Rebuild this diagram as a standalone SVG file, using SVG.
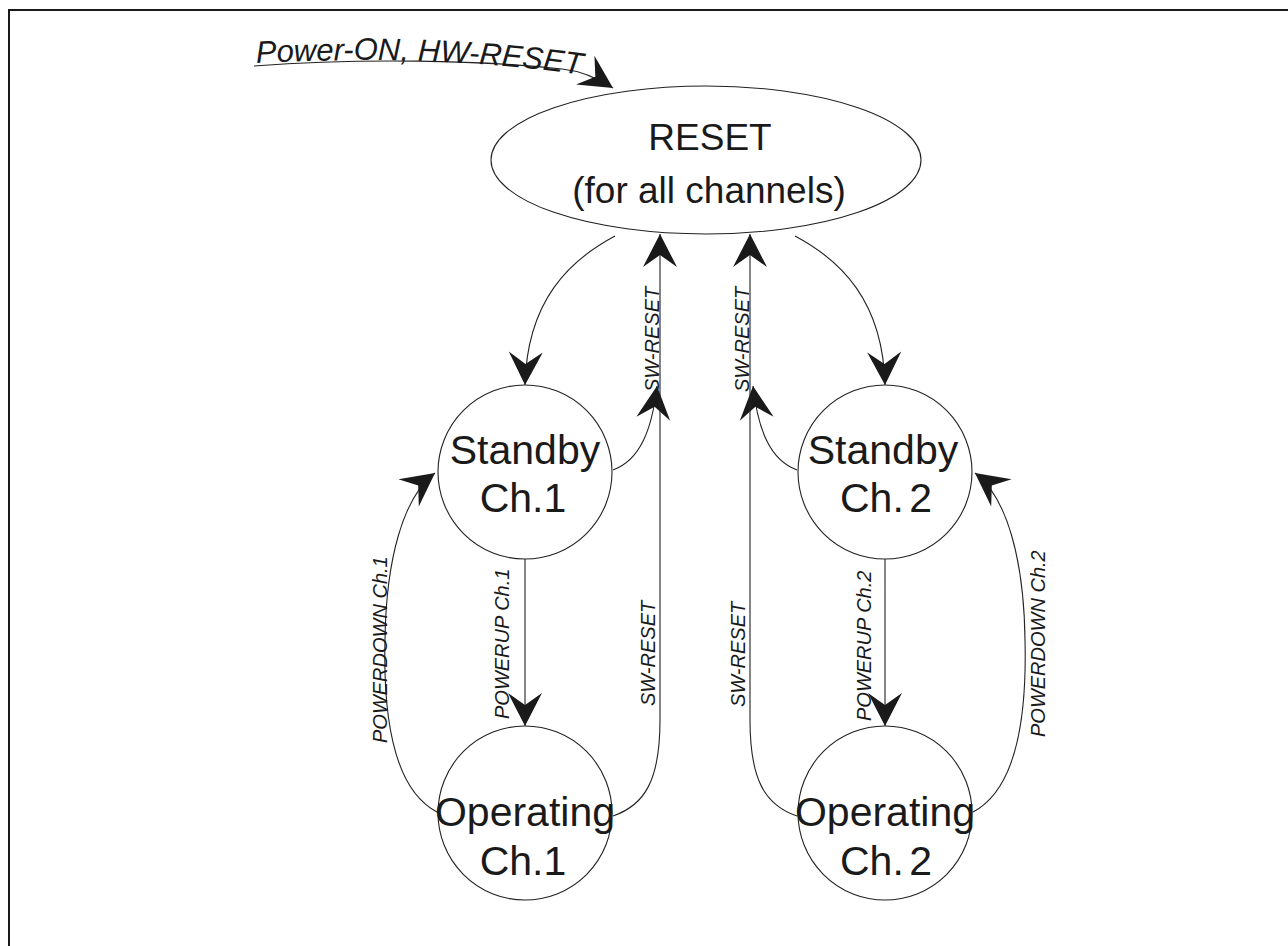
<svg xmlns="http://www.w3.org/2000/svg" width="1288" height="946" viewBox="0 0 1288 946">
<style>
.node{fill:#fff;stroke:#222;stroke-width:1.1}
.big{font-family:"Liberation Sans",Arial,sans-serif;font-size:41px;fill:#1a1a1a;text-anchor:middle}
.lbl{font-family:"Liberation Sans",Arial,sans-serif;font-size:20px;font-style:italic;fill:#1a1a1a}
.con{fill:none;stroke:#222;stroke-width:1.1;marker-end:url(#ah)}
.ch2{word-spacing:-6px}
</style>
<defs>
<marker id="ah" markerUnits="userSpaceOnUse" markerWidth="40" markerHeight="40" viewBox="-36 -20 40 40" refX="0" refY="0" orient="auto" overflow="visible">
<path d="M0,0 L-33,-17 L-21,0 L-33,17 Z" fill="#1a1a1a"/>
</marker>
<path id="pwrpath" d="M256 63 C380 57 480 60 590 76"/>
</defs>
<rect width="1288" height="946" fill="#fff"/>
<g id="frame" fill="none" stroke="#1a1a1a" stroke-width="2">
<path d="M9 946 L9 10 L1288 10"/>
</g>
<g id="connectors">
<path class="con" d="M254 66 C360 58 480 60 562 69 C582 71 599 79 613 88"/>
<text class="lbl" style="font-size:31px"><textPath href="#pwrpath">Power-ON, HW-RESET</textPath></text>
<path class="con" d="M615 236 C570 260 527 300 525 385"/>
<path class="con" d="M795 236 C840 260 883 300 885 385"/>
<path class="con" d="M525 559 L525 726"/>
<path class="con" d="M885 559 L885 726"/>
<path class="con" d="M437 812 C395 790 383 720 385 640 C386 560 403 497 435 473"/>
<path class="con" d="M973 812 C1015 790 1027 720 1025 640 C1024 560 1007 497 975 473"/>
<path class="con" d="M613 470 C640 460 652 430 657 386"/>
<path class="con" d="M797 470 C770 460 758 430 753 386"/>
<path class="con" d="M613 816 C645 805 660 780 660 720 L660 234"/>
<path class="con" d="M797 816 C765 805 750 780 750 720 L750 234"/>
<text class="lbl" transform="translate(659 392) rotate(-90)">SW-RESET</text>
<text class="lbl" transform="translate(749 392) rotate(-90)">SW-RESET</text>
<text class="lbl" transform="translate(655 706) rotate(-90)">SW-RESET</text>
<text class="lbl" transform="translate(745 707) rotate(-90)">SW-RESET</text>
<text class="lbl" transform="translate(509 719) rotate(-90)">POWERUP Ch.1</text>
<text class="lbl" transform="translate(871 721) rotate(-90)">POWERUP Ch.2</text>
<text class="lbl" transform="translate(387 743) rotate(-90)">POWERDOWN Ch.1</text>
<text class="lbl" transform="translate(1045 737) rotate(-90)">POWERDOWN Ch.2</text>
</g>
<g id="reset">
<ellipse class="node" cx="706" cy="160" rx="215" ry="74"/>
<text class="big" x="710" y="150" style="font-size:37px">RESET</text>
<text class="big" x="709" y="203" style="font-size:37px">(for all channels)</text>
</g>
<g id="standby1">
<circle class="node" cx="525" cy="472" r="87"/>
<text class="big" x="525" y="464">Standby</text>
<text class="big" x="523" y="512">Ch.1</text>
</g>
<g id="standby2">
<circle class="node" cx="885" cy="472" r="87"/>
<text class="big" x="883" y="464">Standby</text>
<text class="big ch2" x="886" y="512">Ch. 2</text>
</g>
<g id="operating1">
<circle class="node" cx="525" cy="813" r="87"/>
<text class="big" x="525" y="826">Operating</text>
<text class="big" x="523" y="875">Ch.1</text>
</g>
<g id="operating2">
<circle class="node" cx="885" cy="813" r="87"/>
<text class="big" x="885" y="826">Operating</text>
<text class="big ch2" x="886" y="875">Ch. 2</text>
</g>
</svg>
